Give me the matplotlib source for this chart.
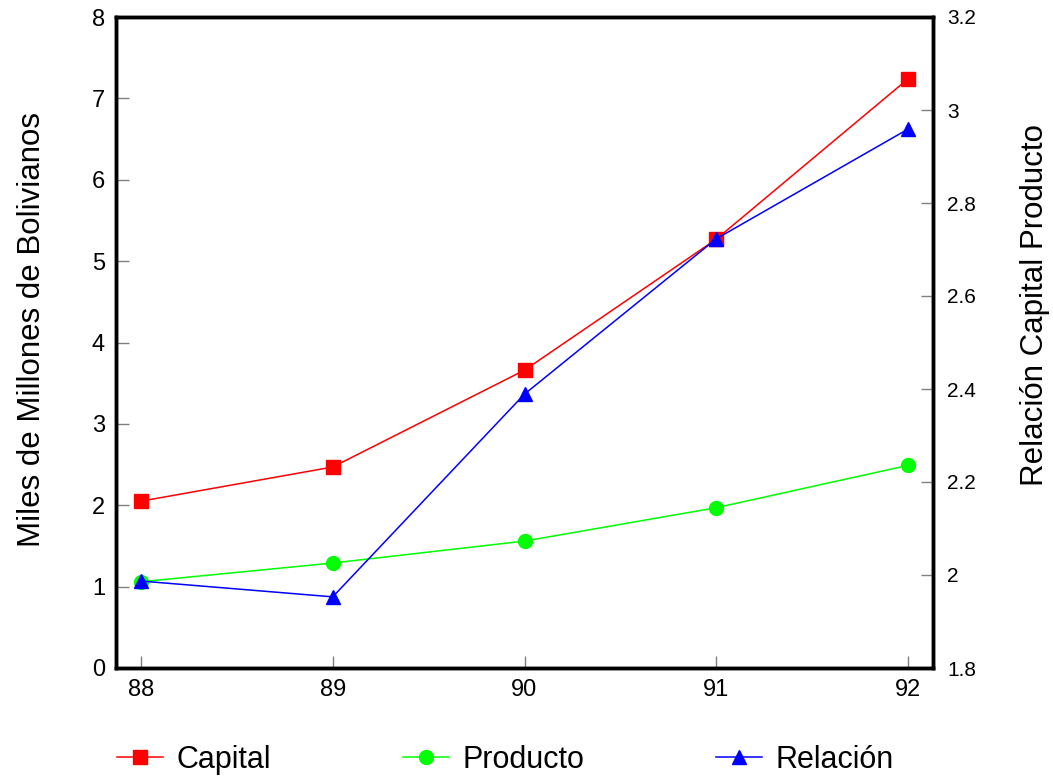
import matplotlib
matplotlib.use('Agg')
import matplotlib.pyplot as plt

plt.rcParams['font.family'] = ['Liberation Sans', 'DejaVu Sans']

years = [88, 89, 90, 91, 92]
year_labels = ['88', '89', '90', '91', '92']
capital = [2.05, 2.47, 3.66, 5.27, 7.24]
producto = [1.06, 1.29, 1.56, 1.97, 2.49]
relacion = [1.987, 1.953, 2.389, 2.723, 2.959]

fig = plt.figure(figsize=(10.53, 7.77), dpi=100)
ax = fig.add_axes([116 / 1053, 1 - 668 / 777, (933 - 116) / 1053, (668 - 17) / 777])
ax2 = ax.twinx()

l1, = ax.plot(years, capital, color='#ff0000', lw=1.1, marker='s', ms=10, label='Capital')
l2, = ax.plot(years, producto, color='#00ff00', lw=1.1, marker='o', ms=10, label='Producto')
l3, = ax2.plot(years, relacion, color='#0000ff', lw=1.1, marker='^', ms=10, label='Relación')

ax.set_xlim(87.87, 92.13)
ax.set_ylim(0, 8)
ax2.set_ylim(1.8, 3.2)
ax.set_xticks(years)
ax.set_xticklabels(year_labels)
ax.set_yticks(range(0, 9))
ax2.set_yticks([1.8, 2.0, 2.2, 2.4, 2.6, 2.8, 3.0, 3.2])
ax2.set_yticklabels(['1.8', '2', '2.2', '2.4', '2.6', '2.8', '3', '3.2'])

for a in (ax, ax2):
    for s in a.spines.values():
        s.set_linewidth(2.5)
    a.tick_params(direction='in', length=9, width=1, color='#808080', labelsize=17, pad=8)
ax2.tick_params(labelsize=15, pad=10)

ax.set_ylabel('Miles de Millones de Bolivianos', fontsize=22.5)
ax.yaxis.set_label_coords(-0.084, 0.52)
ax2.set_ylabel('Relación Capital Producto', fontsize=22.5, rotation=90)
ax2.yaxis.set_label_coords(1.107, 0.557)

fig.legend(handles=[l1, l2, l3], loc='center', bbox_to_anchor=(0.48, 0.022), ncol=3,
           frameon=False, fontsize=22, columnspacing=4.3, handlelength=1.5, handletextpad=0.45)

fig.savefig('out.png', dpi=100)
